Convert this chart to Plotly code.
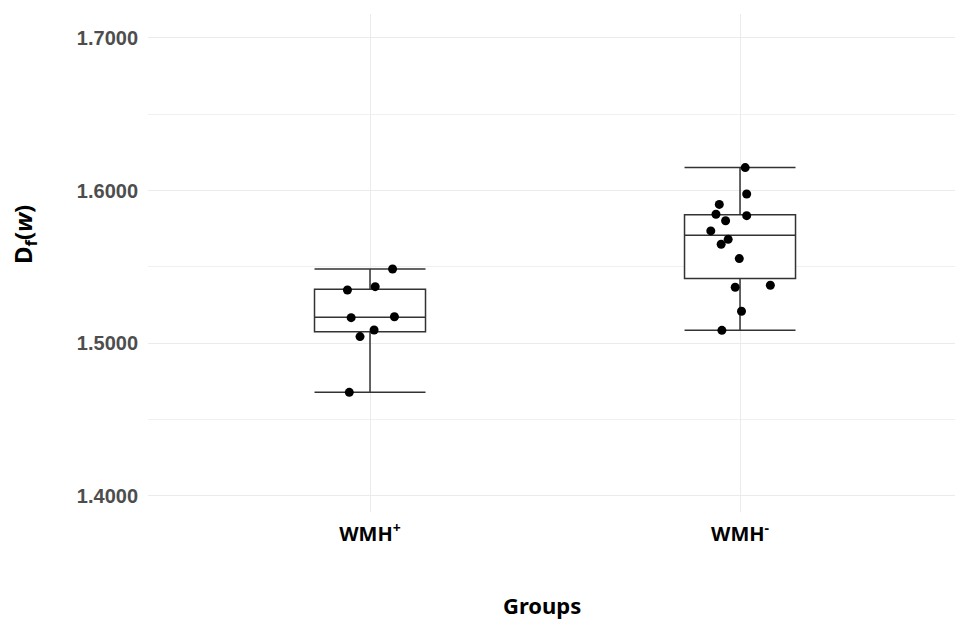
import numpy as np
import plotly.graph_objects as go

# ---- data ----
groups = ["WMH<sup>+</sup>", "WMH<sup>-</sup>"]
group_pos = [1, 2]

wmh_pos_values = [1.5487, 1.5371, 1.5349, 1.5168, 1.5174, 1.5087, 1.5044, 1.4679]
wmh_pos_jitter = [0.061, 0.014, -0.061, -0.051, 0.066, 0.011, -0.027, -0.056]

wmh_neg_values = [1.6151, 1.5978, 1.5910, 1.5845, 1.5836, 1.5803, 1.5736,
                  1.5681, 1.5649, 1.5555, 1.5380, 1.5367, 1.5210, 1.5085]
wmh_neg_jitter = [0.014, 0.018, -0.056, -0.065, 0.018, -0.039, -0.079,
                  -0.032, -0.051, -0.002, 0.082, -0.013, 0.004, -0.049]

y_ticks = [1.4, 1.5, 1.6, 1.7]
y_tick_labels = ["1.4000", "1.5000", "1.6000", "1.7000"]
y_minor = [1.45, 1.55, 1.65]

series = [wmh_pos_values, wmh_neg_values]
jitters = [wmh_pos_jitter, wmh_neg_jitter]

# ---- box statistics (R type-7 quantiles, whiskers to data extremes within 1.5 IQR) ----
q1s, meds, q3s, lows, highs = [], [], [], [], []
for vals in series:
    a = np.array(vals)
    q1, med, q3 = np.percentile(a, [25, 50, 75])
    iqr = q3 - q1
    lo = a[a >= q1 - 1.5 * iqr].min()
    hi = a[a <= q3 + 1.5 * iqr].max()
    q1s.append(q1); meds.append(med); q3s.append(q3); lows.append(lo); highs.append(hi)

fig = go.Figure()

fig.add_trace(go.Box(
    x=group_pos, q1=q1s, median=meds, q3=q3s, lowerfence=lows, upperfence=highs,
    width=0.3, whiskerwidth=1, fillcolor="white",
    line=dict(color="#333333", width=1.5),
    boxpoints=False, showlegend=False, hoverinfo="skip",
))

for gp, vals, jit in zip(group_pos, series, jitters):
    fig.add_trace(go.Scatter(
        x=[gp + j for j in jit], y=vals, mode="markers",
        marker=dict(color="black", size=9),
        showlegend=False,
    ))

fig.update_layout(
    width=955, height=620,
    margin=dict(l=148, r=0, t=14, b=108),
    plot_bgcolor="white", paper_bgcolor="white",
    xaxis=dict(
        range=[0.4, 2.581], tickvals=group_pos, ticktext=groups,
        showgrid=True, gridcolor="#ebebeb", gridwidth=1, zeroline=False,
        showline=False, ticks="",
        tickfont=dict(family="Noto Sans", size=20, color="black", weight="bold"),
        ticklabelstandoff=8,
    ),
    yaxis=dict(
        range=[1.3895, 1.7157], tickvals=y_ticks, ticktext=y_tick_labels,
        showgrid=True, gridcolor="#ebebeb", gridwidth=1.2, zeroline=False,
        showline=False, ticks="",
        minor=dict(tickvals=y_minor, showgrid=True, gridcolor="#f0f0f0", gridwidth=1),
        tickfont=dict(family="Liberation Sans", size=20, color="#4d4d4d", weight="bold"),
        ticklabelstandoff=9,
    ),
    annotations=[
        dict(text="Groups", xref="paper", yref="paper", x=0.488, y=-0.187,
             xanchor="center", yanchor="middle", showarrow=False,
             font=dict(family="Noto Sans", size=22, color="black", weight="bold")),
        dict(text="D<sub>f</sub>(<i>w</i>)", xref="paper", yref="paper",
             x=-0.1537, y=0.558, xanchor="center", yanchor="middle",
             textangle=-90, showarrow=False,
             font=dict(family="Noto Sans", size=24, color="black", weight="bold")),
    ],
)

fig.write_html("out.html",
               config={"displayModeBar": False},
               post_script="document.body.style.margin='0';document.body.style.overflow='hidden';")
